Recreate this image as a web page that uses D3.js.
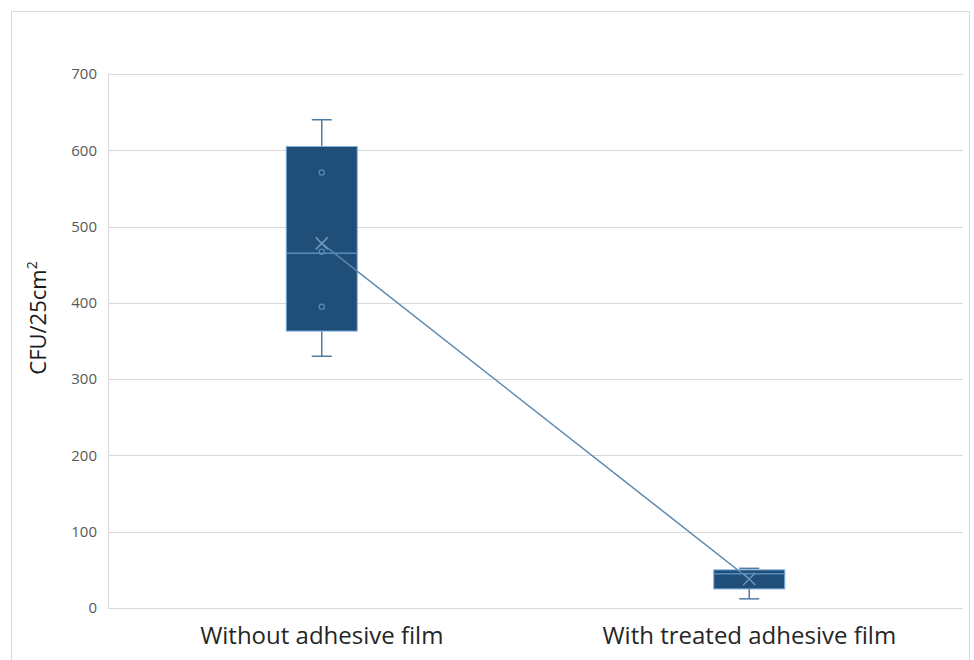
<!DOCTYPE html>
<html><head><meta charset="utf-8">
<script src="https://cdn.jsdelivr.net/npm/d3@7"></script>
<style>body{margin:0;background:#fff}svg{display:block}</style>
</head><body>
<svg id="c" width="974" height="660"></svg>
<script>
const categories = ["Without adhesive film", "With treated adhesive film"];
const mins = [330, 12];
const q1s = [363, 25];
const medians = [465, 45];
const q3s = [605, 50];
const maxs = [640, 52];
const means = [478, 38];
const innerPoints = [[571, 467, 395], []];
const yTicks = [0, 100, 200, 300, 400, 500, 600, 700];

const svg = d3.select("#c");
const W = 974, H = 660;
const m = {l: 108, r: 11, t: 74, b: 52};
svg.append("rect").attr("x", 11.5).attr("y", 11.5).attr("width", 958).attr("height", 660)
  .attr("fill", "#fff").attr("stroke", "#d9d9d9");

const x = d3.scaleBand().domain(categories).range([m.l, W - m.r]);
const y = d3.scaleLinear().domain([0, 700]).range([H - m.b, m.t]);

svg.append("g").selectAll("line").data(yTicks).join("line")
  .attr("x1", m.l).attr("x2", W - m.r)
  .attr("y1", d => Math.round(y(d)) + 0.5).attr("y2", d => Math.round(y(d)) + 0.5)
  .attr("stroke", "#d9d9d9").attr("stroke-width", 1);

const ya = svg.append("g").attr("transform", `translate(${m.l},0)`)
  .call(d3.axisLeft(y).tickValues(yTicks).tickSize(0).tickPadding(11));
ya.select(".domain").attr("stroke", "#d9d9d9");
ya.selectAll("text").attr("font-family", "Open Sans, sans-serif").attr("font-size", 15).attr("fill", "#595959");

const xa = svg.append("g").attr("transform", `translate(0,${H - m.b})`)
  .call(d3.axisBottom(x).tickSize(0).tickPadding(19));
xa.select(".domain").remove();
xa.selectAll("text").attr("font-family", "Open Sans, sans-serif").attr("font-size", 24).attr("fill", "#262626");

svg.append("text").attr("transform", `translate(46,318) rotate(-90)`)
  .attr("text-anchor", "middle").attr("font-family", "Open Sans, sans-serif").attr("font-size", 22).attr("fill", "#1a1a1a")
  .html("CFU/25cm<tspan dy='-9' font-size='14'>2</tspan>");

const bw = 71;
const cx = c => x(c) + x.bandwidth() / 2;
const idx = categories.map((c, i) => i);
const g = svg.append("g");

idx.forEach(i => {
  const c = cx(categories[i]);
  const wc = "#4f7aa3";
  g.append("line").attr("x1", c).attr("x2", c).attr("y1", y(maxs[i])).attr("y2", y(q3s[i])).attr("stroke", wc).attr("stroke-width", 1.5);
  g.append("line").attr("x1", c).attr("x2", c).attr("y1", y(q1s[i])).attr("y2", y(mins[i])).attr("stroke", wc).attr("stroke-width", 1.5);
  g.append("line").attr("x1", c - 10).attr("x2", c + 10).attr("y1", y(maxs[i])).attr("y2", y(maxs[i])).attr("stroke", wc).attr("stroke-width", 1.5);
  g.append("line").attr("x1", c - 10).attr("x2", c + 10).attr("y1", y(mins[i])).attr("y2", y(mins[i])).attr("stroke", wc).attr("stroke-width", 1.5);
  g.append("rect").attr("x", c - bw / 2).attr("y", y(q3s[i])).attr("width", bw).attr("height", y(q1s[i]) - y(q3s[i]))
    .attr("fill", "#1f4e79").attr("stroke", "#7fb0e0").attr("stroke-width", 1);
  g.append("line").attr("x1", c - bw / 2).attr("x2", c + bw / 2).attr("y1", y(medians[i])).attr("y2", y(medians[i]))
    .attr("stroke", "#5b8ab8").attr("stroke-width", 1.5);
  innerPoints[i].forEach(v => {
    g.append("circle").attr("cx", c).attr("cy", y(v)).attr("r", 2.6).attr("fill", "none").attr("stroke", "#5b8ab8").attr("stroke-width", 1.2);
  });
});

const line = d3.line().x(i => cx(categories[i])).y(i => y(means[i]));
g.append("path").datum(idx).attr("d", line).attr("fill", "none").attr("stroke", "#5a87b0").attr("stroke-width", 1.5);

idx.forEach(i => {
  const c = cx(categories[i]), yy = y(means[i]), s = 6;
  g.append("path").attr("d", `M${c - s},${yy - s}L${c + s},${yy + s}M${c - s},${yy + s}L${c + s},${yy - s}`)
    .attr("stroke", "#6c96c0").attr("stroke-width", 1.5).attr("fill", "none");
});
</script>
</body></html>
